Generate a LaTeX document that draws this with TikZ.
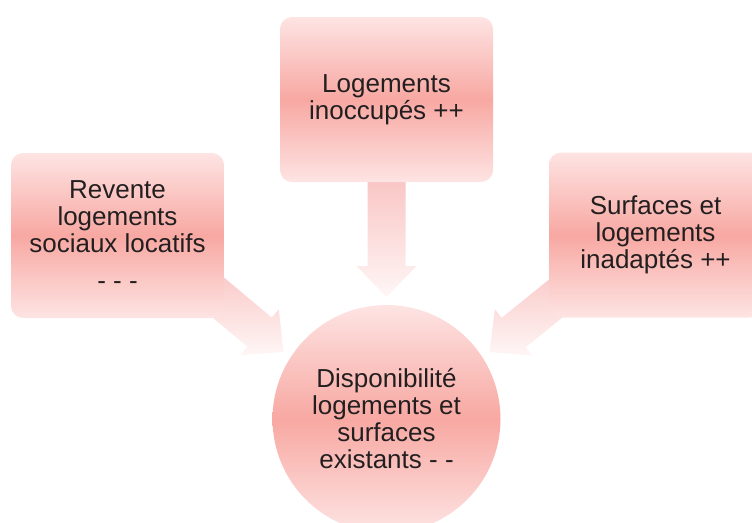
\documentclass[tikz,border=0pt]{standalone}
\usepackage{fontspec}
\setmainfont{Liberation Sans}
\usetikzlibrary{calc, backgrounds}
\definecolor{pinklight}{HTML}{FDE4E3}
\definecolor{pinkmid}{HTML}{F8A8A2}
\definecolor{arrowpink}{HTML}{F8C2C0}
\definecolor{arrowpale}{HTML}{FFF6F6}
\definecolor{inkdark}{HTML}{231F20}
\tikzset{
    my-box/.style={
      rectangle, rounded corners=12pt, top color=pinklight, bottom color=pinklight,
      middle color=pinkmid, minimum width=213pt, minimum height=165pt,
      align=center, text=inkdark, font=\fontsize{26}{27}\selectfont
    },
    my-circle/.style={
      circle, top color=pinklight, bottom color=pinklight, middle color=pinkmid,
      minimum size=228pt, inner sep=0pt, align=center, text=inkdark,
      font=\fontsize{26}{27}\selectfont
    },
    my-arrow/.style={
      top color=arrowpink, bottom color=arrowpale
    },
}

\begin{document}
\begin{tikzpicture}[x=1pt, y=-1pt]

        \useasboundingbox (0,0) rectangle (752,522);

        % BOXES AND CIRCLE
        \node[my-box]    (TOP)   at (386.5, 99.5)  {Logements\\inoccupés ++};
        \node[my-box]    (LEFT)  at (117.5, 235.5) {Revente\\logements\\sociaux locatifs\\[10pt]- - -};
        \node[my-box]    (RIGHT) at (655.5, 235)   {Surfaces et\\logements\\inadaptés ++};
        \node[my-circle] (DISPO) at (386.5, 419)   {Disponibilité\\logements et\\surfaces\\existants - -};

        % ARROW END POINTS
        \coordinate (TOPTAIL)   at ($(TOP.south) + (0, -12)$);
        \coordinate (TOPTIP)    at ($(DISPO.center)!122pt!(DISPO.north)$);
        \coordinate (LEFTTAIL)  at ($(LEFT.south east) + (-35, -45)$);
        \coordinate (LEFTTIP)   at ($(DISPO.center)!123pt!(DISPO.147)$);
        \coordinate (RIGHTTAIL) at ($(RIGHT.south west) + (40, -46)$);
        \coordinate (RIGHTTIP)  at ($(DISPO.center)!123pt!(DISPO.33)$);

        \begin{scope}[on background layer]
        % TOP ARROW
        \coordinate (TOPBASE) at ($(TOPTIP)!31pt!(TOPTAIL)$);
        \shade[my-arrow] (TOPTIP)
            -- ($(TOPBASE)!30pt!90:(TOPTIP)$)  -- ($(TOPBASE)!19pt!90:(TOPTIP)$)
            -- ($(TOPTAIL)!19pt!90:(TOPTIP)$)  -- ($(TOPTAIL)!19pt!-90:(TOPTIP)$)
            -- ($(TOPBASE)!19pt!-90:(TOPTIP)$) -- ($(TOPBASE)!30pt!-90:(TOPTIP)$)
            -- cycle;

        % LEFT ARROW
        \coordinate (LEFTBASE) at ($(LEFTTIP)!31pt!(LEFTTAIL)$);
        \shade[my-arrow] (LEFTTIP)
            -- ($(LEFTBASE)!30pt!90:(LEFTTIP)$)  -- ($(LEFTBASE)!19pt!90:(LEFTTIP)$)
            -- ($(LEFTTAIL)!19pt!90:(LEFTTIP)$)  -- ($(LEFTTAIL)!19pt!-90:(LEFTTIP)$)
            -- ($(LEFTBASE)!19pt!-90:(LEFTTIP)$) -- ($(LEFTBASE)!30pt!-90:(LEFTTIP)$)
            -- cycle;

        % RIGHT ARROW
        \coordinate (RIGHTBASE) at ($(RIGHTTIP)!31pt!(RIGHTTAIL)$);
        \shade[my-arrow] (RIGHTTIP)
            -- ($(RIGHTBASE)!30pt!90:(RIGHTTIP)$)  -- ($(RIGHTBASE)!19pt!90:(RIGHTTIP)$)
            -- ($(RIGHTTAIL)!19pt!90:(RIGHTTIP)$)  -- ($(RIGHTTAIL)!19pt!-90:(RIGHTTIP)$)
            -- ($(RIGHTBASE)!19pt!-90:(RIGHTTIP)$) -- ($(RIGHTBASE)!30pt!-90:(RIGHTTIP)$)
            -- cycle;
        \end{scope}

    \end{tikzpicture}
\end{document}
